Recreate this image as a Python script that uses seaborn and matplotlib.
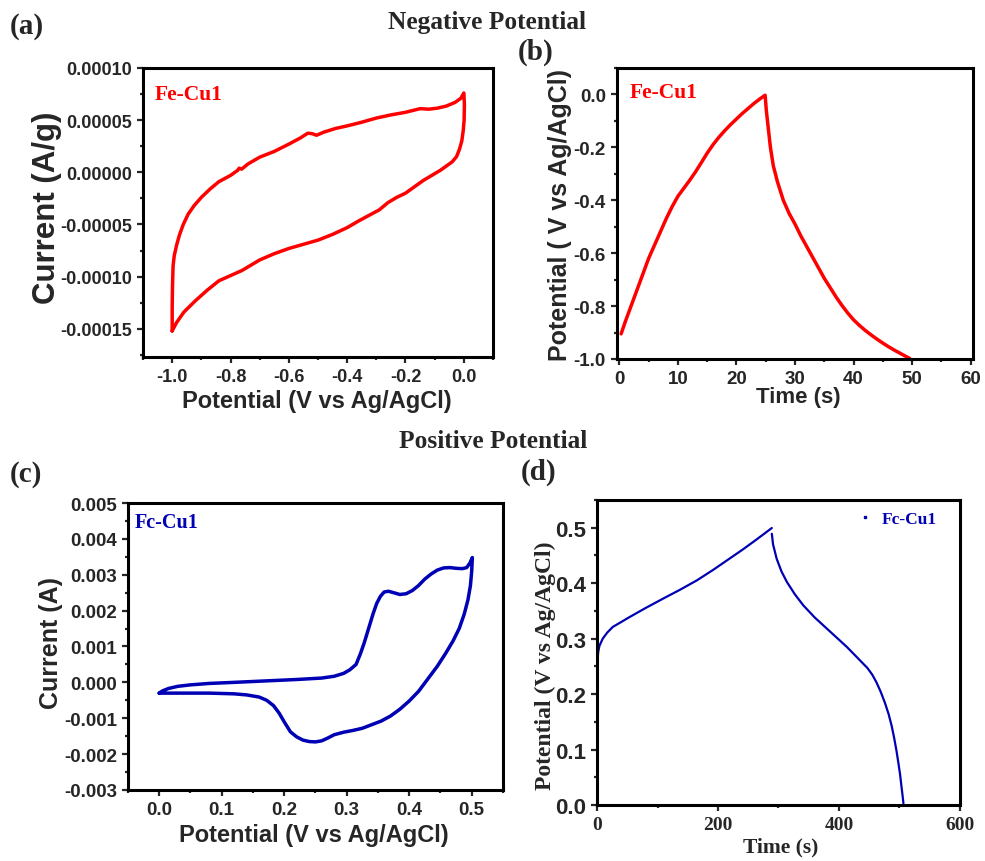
import matplotlib
matplotlib.use("Agg")
import matplotlib.pyplot as plt
from matplotlib.ticker import MultipleLocator, FormatStrFormatter
from matplotlib.lines import Line2D
import seaborn as sns

# (a) CV, negative window: forward (upper) branch then reverse (lower) branch
cv_neg_v = [-1.0, -1.0, -0.999, -0.997, -0.993, -0.985, -0.975, -0.962, -0.945, -0.925, -0.90,
            -0.87, -0.84, -0.80, -0.775, -0.77, -0.762, -0.74, -0.70, -0.65, -0.60, -0.56, -0.535,
            -0.52, -0.505, -0.48, -0.44, -0.40, -0.35, -0.30, -0.25, -0.20, -0.15, -0.12, -0.09,
            -0.06, -0.03, -0.01, 0.0,
            0.002, 0.001, -0.002, -0.007, -0.015, -0.025, -0.04, -0.06, -0.08, -0.11, -0.14, -0.17,
            -0.20, -0.23, -0.26, -0.29, -0.32, -0.36, -0.40, -0.45, -0.50, -0.55, -0.60, -0.65,
            -0.70, -0.73, -0.76, -0.80, -0.84, -0.88, -0.92, -0.96, -0.985, -1.0]
cv_neg_i = [-15.2e-5, -13.0e-5, -11.0e-5, -9.0e-5, -8.0e-5, -7.0e-5, -6.0e-5, -5.0e-5, -4.0e-5, -3.2e-5, -2.4e-5,
            -1.6e-5, -0.9e-5, -0.3e-5, 0.2e-5, 0.4e-5, 0.3e-5, 0.8e-5, 1.45e-5, 2.0e-5, 2.7e-5, 3.3e-5, 3.75e-5,
            3.7e-5, 3.55e-5, 3.85e-5, 4.2e-5, 4.45e-5, 4.8e-5, 5.2e-5, 5.5e-5, 5.75e-5, 6.1e-5, 6.05e-5, 6.15e-5,
            6.35e-5, 6.7e-5, 7.1e-5, 7.6e-5,
            6.5e-5, 5.0e-5, 4.0e-5, 3.0e-5, 2.2e-5, 1.5e-5, 1.0e-5, 0.6e-5, 0.2e-5, -0.3e-5, -0.8e-5, -1.4e-5,
            -2.0e-5, -2.4e-5, -2.9e-5, -3.6e-5, -4.05e-5, -4.65e-5, -5.3e-5, -5.95e-5, -6.5e-5, -6.9e-5, -7.3e-5, -7.8e-5,
            -8.4e-5, -8.9e-5, -9.4e-5, -9.9e-5, -10.4e-5, -11.3e-5, -12.3e-5, -13.4e-5, -14.4e-5, -15.2e-5]

# (b) GCD, negative window: charge then discharge
gcd_neg_t = [0.3, 1, 2, 3, 4, 5, 6, 7, 8, 9, 10, 11, 12, 13, 14, 15, 16, 17, 18, 19, 20,
             21, 22, 23, 24, 24.9,
             25.1, 25.4, 25.8, 26.3, 27, 28, 29, 30, 31, 32, 33, 34, 35, 36, 37, 38, 39, 40,
             41, 42, 43, 44, 45, 46, 47, 48, 49, 49.6]
gcd_neg_v = [-0.905, -0.86, -0.80, -0.74, -0.68, -0.62, -0.57, -0.52, -0.47, -0.425, -0.385,
             -0.355, -0.325, -0.293, -0.258, -0.222, -0.19, -0.162, -0.137, -0.114, -0.093,
             -0.072, -0.053, -0.034, -0.017, -0.003,
             -0.06, -0.12, -0.20, -0.27, -0.33, -0.40, -0.45, -0.49, -0.535, -0.575, -0.615, -0.655,
             -0.695, -0.73, -0.765, -0.797, -0.826, -0.852, -0.873, -0.892, -0.909, -0.925, -0.940,
             -0.954, -0.967, -0.979, -0.991, -0.998]

# (c) CV, positive window
cv_pos_v = [0.0, 0.005, 0.015, 0.03, 0.05, 0.08, 0.12, 0.17, 0.22, 0.26, 0.28, 0.295, 0.305, 0.315,
            0.322, 0.328, 0.335, 0.342, 0.348, 0.354, 0.36, 0.367, 0.375, 0.385, 0.395, 0.405, 0.415,
            0.425, 0.435, 0.445, 0.455, 0.465, 0.475, 0.485, 0.492, 0.497, 0.501,
            0.5, 0.498, 0.494, 0.488, 0.48, 0.47, 0.458, 0.445, 0.43, 0.415, 0.40, 0.385, 0.37, 0.355,
            0.34, 0.325, 0.31, 0.295, 0.28, 0.27, 0.26, 0.25, 0.24, 0.23, 0.22, 0.21, 0.20, 0.192,
            0.183, 0.172, 0.16, 0.14, 0.12, 0.08, 0.04, 0.0]
cv_pos_i = [-0.0003, -0.00024, -0.00017, -0.00011, -0.00007, -0.00003, 0.0, 0.00004, 0.00008, 0.00012,
            0.00017, 0.00025, 0.00035, 0.0005, 0.0008, 0.0011, 0.0015, 0.0019, 0.0022, 0.0024, 0.00252,
            0.00254, 0.0025, 0.00245, 0.00247, 0.00256, 0.0027, 0.00288, 0.00302, 0.00313, 0.00319,
            0.0032, 0.00318, 0.00317, 0.0032, 0.00332, 0.00348,
            0.0031, 0.0027, 0.0023, 0.0019, 0.0015, 0.00115, 0.0008, 0.00045, 0.0001, -0.00025, -0.00052,
            -0.00075, -0.00094, -0.00108, -0.00118, -0.00128, -0.00134, -0.00139, -0.00146, -0.00155,
            -0.00163, -0.00166, -0.00165, -0.00161, -0.00152, -0.00138, -0.0011, -0.00086, -0.00065,
            -0.0005, -0.00041, -0.00035, -0.00032, -0.0003, -0.0003, -0.0003]

# (d) GCD, positive window: charge then discharge
gcd_pos_t_c = [0.5, 1.0, 2, 4, 9.5, 17, 26, 40, 54, 80, 109, 137, 165, 192, 220, 240, 259, 275, 289]
gcd_pos_v_c = [0.245, 0.262, 0.276, 0.287, 0.300, 0.311, 0.321, 0.330, 0.339, 0.355, 0.372, 0.388,
               0.405, 0.424, 0.445, 0.460, 0.475, 0.488, 0.4995]
gcd_pos_t_d = [289, 291, 297, 305, 314, 327, 341, 360, 380, 397, 413, 430, 447, 455, 462, 469,
               476, 482, 487, 491, 495, 498, 501, 503, 505, 506.5]
gcd_pos_v_d = [0.489, 0.470, 0.444, 0.421, 0.402, 0.380, 0.360, 0.338, 0.318, 0.301, 0.285, 0.266,
               0.247, 0.235, 0.221, 0.204, 0.184, 0.164, 0.143, 0.122, 0.098, 0.077, 0.055, 0.036,
               0.018, 0.003]

RED = "#ff0000"
BLUE = "#0000b4"
SANS = "Liberation Sans"
SERIF = "Liberation Serif"

sns.set_style("ticks")
plt.rcParams["font.family"] = [SANS, "DejaVu Sans"]
plt.rcParams["font.weight"] = "bold"

fig = plt.figure(figsize=(9.85, 8.62), dpi=100)
ax_a = fig.add_axes([0.1452, 0.5847, 0.3553, 0.3353])
ax_b = fig.add_axes([0.6264, 0.5824, 0.3614, 0.3376])
ax_c = fig.add_axes([0.1299, 0.0824, 0.3807, 0.3329])
ax_d = fig.add_axes([0.6061, 0.0650, 0.3685, 0.3538])


def style_axes(ax, tick_size):
    for sp in ax.spines.values():
        sp.set_linewidth(2.2)
        sp.set_color("black")
    ax.tick_params(which="major", direction="out", length=4.5, width=1.6,
                   labelsize=tick_size, top=False, right=False)
    ax.tick_params(which="minor", direction="out", length=2.5, width=1.6,
                   top=False, right=False)
    for lbl in ax.get_xticklabels() + ax.get_yticklabels():
        lbl.set_fontweight("bold")


# (a)
sns.lineplot(x=cv_neg_v, y=cv_neg_i, sort=False, estimator=None, color=RED, lw=2.5, ax=ax_a)
ax_a.set_xlim(-1.1, 0.1)
ax_a.set_ylim(-0.000177, 0.0001)
ax_a.xaxis.set_major_locator(MultipleLocator(0.2))
ax_a.xaxis.set_minor_locator(MultipleLocator(0.1))
ax_a.yaxis.set_major_locator(MultipleLocator(0.00005))
ax_a.yaxis.set_minor_locator(MultipleLocator(0.000025))
ax_a.xaxis.set_major_formatter(FormatStrFormatter("%.1f"))
ax_a.yaxis.set_major_formatter(FormatStrFormatter("%.5f"))
style_axes(ax_a, 13)
ax_a.set_xlabel("Potential (V vs Ag/AgCl)", fontsize=17, fontweight="bold")
ax_a.set_ylabel("Current (A/g)", fontsize=22.5, fontweight="bold")
ax_a.xaxis.set_label_coords(0.497, -0.111)
ax_a.yaxis.set_label_coords(-0.231, 0.52)
ax_a.text(0.034, 0.91, "Fe-Cu1", transform=ax_a.transAxes, color=RED, fontsize=15.5,
          fontweight="bold", family=SERIF, va="center", ha="left")

# (b)
sns.lineplot(x=gcd_neg_t, y=gcd_neg_v, sort=False, estimator=None, color=RED, lw=2.5, ax=ax_b)
ax_b.set_xlim(-0.4, 60.4)
ax_b.set_ylim(-1.0, 0.1)
ax_b.xaxis.set_major_locator(MultipleLocator(10))
ax_b.xaxis.set_minor_locator(MultipleLocator(5))
ax_b.yaxis.set_major_locator(MultipleLocator(0.2))
ax_b.yaxis.set_minor_locator(MultipleLocator(0.1))
ax_b.xaxis.set_major_formatter(FormatStrFormatter("%d"))
ax_b.yaxis.set_major_formatter(FormatStrFormatter("%.1f"))
style_axes(ax_b, 13.5)
ax_b.set_xlabel("Time (s)", fontsize=16, fontweight="bold")
ax_b.set_ylabel("Potential ( V vs Ag/AgCl)", fontsize=18, fontweight="bold")
ax_b.xaxis.set_label_coords(0.508, -0.094)
ax_b.yaxis.set_label_coords(-0.126, 0.498)
ax_b.text(0.037, 0.918, "Fe-Cu1", transform=ax_b.transAxes, color=RED, fontsize=15.5,
          fontweight="bold", family=SERIF, va="center", ha="left")

# (c)
sns.lineplot(x=cv_pos_v, y=cv_pos_i, sort=False, estimator=None, color=BLUE, lw=2.5, ax=ax_c)
ax_c.set_xlim(-0.05, 0.55)
ax_c.set_ylim(-0.003, 0.005)
ax_c.xaxis.set_major_locator(MultipleLocator(0.1))
ax_c.xaxis.set_minor_locator(MultipleLocator(0.05))
ax_c.yaxis.set_major_locator(MultipleLocator(0.001))
ax_c.yaxis.set_minor_locator(MultipleLocator(0.0005))
ax_c.xaxis.set_major_formatter(FormatStrFormatter("%.1f"))
ax_c.yaxis.set_major_formatter(FormatStrFormatter("%.3f"))
style_axes(ax_c, 13.5)
ax_c.set_xlabel("Potential (V vs Ag/AgCl)", fontsize=17, fontweight="bold")
ax_c.set_ylabel("Current (A)", fontsize=18, fontweight="bold")
ax_c.xaxis.set_label_coords(0.496, -0.115)
ax_c.yaxis.set_label_coords(-0.173, 0.516)
ax_c.text(0.019, 0.934, "Fc-Cu1", transform=ax_c.transAxes, color=BLUE, fontsize=14.5,
          fontweight="bold", family=SERIF, va="center", ha="left")

# (d)
sns.lineplot(x=gcd_pos_t_c, y=gcd_pos_v_c, sort=False, estimator=None, color=BLUE, lw=1.6, ax=ax_d)
sns.lineplot(x=gcd_pos_t_d, y=gcd_pos_v_d, sort=False, estimator=None, color=BLUE, lw=1.6, ax=ax_d)
ax_d.set_xlim(0, 600)
ax_d.set_ylim(0, 0.55)
ax_d.xaxis.set_major_locator(MultipleLocator(200))
ax_d.xaxis.set_minor_locator(MultipleLocator(100))
ax_d.yaxis.set_major_locator(MultipleLocator(0.1))
ax_d.yaxis.set_minor_locator(MultipleLocator(0.05))
ax_d.xaxis.set_major_formatter(FormatStrFormatter("%d"))
ax_d.yaxis.set_major_formatter(FormatStrFormatter("%.1f"))
style_axes(ax_d, 16)
ax_d.tick_params(axis="x", labelsize=14)
for lbl in ax_d.get_xticklabels():
    lbl.set_fontfamily(SERIF)
ax_d.set_xlabel("Time (s)", fontsize=15.5, fontweight="bold", family=SERIF)
ax_d.set_ylabel("Potential (V vs Ag/AgCl)", fontsize=17, fontweight="bold", family=SERIF)
ax_d.xaxis.set_label_coords(0.507, -0.102)
ax_d.yaxis.set_label_coords(-0.113, 0.46)
handle = Line2D([], [], ls="none", marker="s", ms=1.5, color=BLUE)
ax_d.legend(handles=[handle], labels=["Fc-Cu1"], loc="center left", bbox_to_anchor=(0.68, 0.938),
            frameon=False, handlelength=0.6, handletextpad=0.7,
            prop={"family": SERIF, "weight": "bold", "size": 12.5}, labelcolor=BLUE)

# titles and panel letters
title_kw = dict(fontsize=18.3, fontweight="bold", family=SERIF, ha="center", va="center")
fig.text(487 / 985, 1 - 22 / 862, "Negative Potential", **title_kw)
fig.text(493 / 985, 1 - 442 / 862, "Positive Potential", **title_kw)
letter_kw = dict(fontsize=21, fontweight="bold", family=SERIF, ha="left", va="center")
fig.text(10 / 985, 1 - 27 / 862, "(a)", **letter_kw)
fig.text(518 / 985, 1 - 52 / 862, "(b)", **letter_kw)
fig.text(10 / 985, 1 - 475 / 862, "(c)", **letter_kw)
fig.text(521 / 985, 1 - 472 / 862, "(d)", **letter_kw)

fig.savefig("out.png", dpi=100)
plt.close(fig)
